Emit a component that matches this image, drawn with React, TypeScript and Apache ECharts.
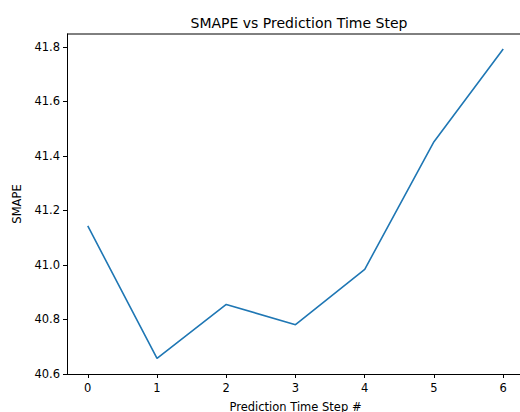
import React, { useEffect, useRef } from "react";
import * as echarts from "echarts";

const steps = [0, 1, 2, 3, 4, 5, 6];
const smape = [41.143, 40.657, 40.855, 40.781, 40.984, 41.452, 41.792];
const xTicks = [0, 1, 2, 3, 4, 5, 6];
const yTicks = [40.6, 40.8, 41.0, 41.2, 41.4, 41.6, 41.8];

const FONT = "DejaVu Sans";
const X_MIN = -0.3;
const X_MAX = 6.3;
const Y_MIN = 40.6;
const Y_MAX = 41.847;

export default function App() {
  const ref = useRef<HTMLDivElement>(null);
  useEffect(() => {
    if (!ref.current) return;
    const chart = echarts.init(ref.current, null, { renderer: "svg" });
    chart.setOption({
      animation: false,
      backgroundColor: "#ffffff",
      title: {
        text: "SMAPE vs Prediction Time Step",
        left: 294,
        textAlign: "center",
        top: 11,
        textStyle: { fontFamily: FONT, fontSize: 14, fontWeight: "normal", color: "#000" },
      },
      grid: {
        left: 67,
        right: -4,
        top: 34,
        bottom: 38,
        outerBoundsMode: "none",
        containLabel: false,
      },
      xAxis: {
        type: "value",
        min: X_MIN,
        max: X_MAX,
        name: "Prediction Time Step #",
        nameLocation: "middle",
        nameGap: 27,
        nameTextStyle: { fontFamily: FONT, fontSize: 11.5, color: "#000" },
        axisLine: { show: true, onZero: false, lineStyle: { color: "#000" } },
        axisTick: { show: true, length: 4, customValues: xTicks, lineStyle: { color: "#000" } },
        axisLabel: {
          customValues: xTicks,
          fontFamily: FONT,
          fontSize: 11.5,
          color: "#000",
          margin: 8,
        },
        splitLine: { show: false },
      },
      yAxis: {
        type: "value",
        min: Y_MIN,
        max: Y_MAX,
        name: "SMAPE",
        nameLocation: "middle",
        nameRotate: 90,
        nameGap: 44,
        nameTextStyle: { fontFamily: FONT, fontSize: 11.5, color: "#000" },
        axisLine: { show: true, onZero: false, lineStyle: { color: "#000" } },
        axisTick: { show: true, length: 4, customValues: yTicks, lineStyle: { color: "#000" } },
        axisLabel: {
          customValues: yTicks,
          fontFamily: FONT,
          fontSize: 11.5,
          color: "#000",
          margin: 7,
          formatter: (v: number) => v.toFixed(1),
        },
        splitLine: { show: false },
      },
      series: [
        {
          type: "line",
          data: steps.map((s, i) => [s, smape[i]]),
          showSymbol: false,
          symbol: "none",
          lineStyle: { color: "#1f77b4", width: 1.6 },
        },
      ],
    });
    const p1 = chart.convertToPixel({ gridIndex: 0 }, [X_MIN, Y_MAX]) as number[];
    const p2 = chart.convertToPixel({ gridIndex: 0 }, [X_MAX, Y_MAX]) as number[];
    if (p1 && p2) {
      chart.setOption({
        graphic: [
          {
            type: "line",
            shape: { x1: p1[0], y1: p1[1], x2: p2[0], y2: p2[1] },
            style: { stroke: "#000", lineWidth: 1 },
            z: 10,
          },
        ],
      });
    }
    return () => chart.dispose();
  }, []);
  return <div ref={ref} style={{ width: 520, height: 412, position: "absolute", left: 0, top: 0 }} />;
}
